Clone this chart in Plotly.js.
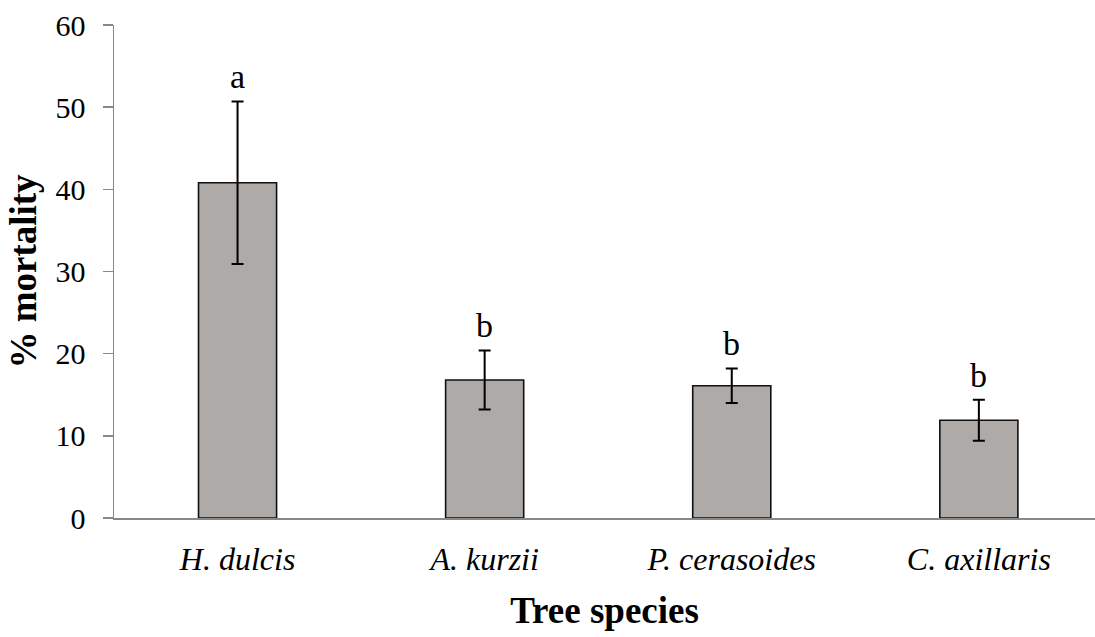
<!DOCTYPE html>
<html>
<head>
<meta charset="utf-8">
<script src="https://cdn.plot.ly/plotly-3.0.1.min.js"></script>
<style>html,body{margin:0;padding:0;background:#fff;}#chart{width:1095px;height:637px;}</style>
</head>
<body>
<div id="chart"></div>
<script>
const species = ["H. dulcis", "A. kurzii", "P. cerasoides", "C. axillaris"];
const mortality = [40.8, 16.8, 16.1, 11.9];
const errors = [9.9, 3.6, 2.1, 2.5];
const letters = ["a", "b", "b", "b"];
const yTicks = [0, 10, 20, 30, 40, 50, 60];

const FONT = "'Liberation Serif', 'Times New Roman', serif";

const trace = {
  type: "bar",
  x: species,
  y: mortality,
  width: 0.316,
  marker: {color: "#ADAAA8", line: {color: "#111111", width: 1.6}},
  error_y: {type: "data", array: errors, visible: true, color: "#000000", thickness: 2, width: 6},
  hoverinfo: "x+y"
};

const annotations = species.map((s, i) => ({
  x: s, y: mortality[i] + errors[i], xref: "x", yref: "y",
  text: letters[i], showarrow: false, yanchor: "bottom", yshift: 4,
  font: {family: FONT, size: 34, color: "#000"}
}));

const layout = {
  width: 1095, height: 637,
  margin: {l: 114, r: 0, t: 25, b: 119},
  paper_bgcolor: "#fff", plot_bgcolor: "#fff",
  showlegend: false,
  font: {family: FONT, color: "#000"},
  xaxis: {
    type: "category",
    range: [-0.5, 3.47],
    tickvals: species,
    ticktext: species.map(s => "<i>" + s + "</i>"),
    showline: true, linecolor: "#888888", linewidth: 2,
    ticks: "", showgrid: false, zeroline: false,
    tickfont: {family: FONT, size: 32, color: "#000"},
    ticklabelstandoff: 12,
    title: {text: "<b>Tree species</b>", font: {family: FONT, size: 37, color: "#000"}, standoff: 21}
  },
  yaxis: {
    range: [0, 60],
    tickvals: yTicks,
    ticktext: yTicks.map(String),
    showline: true, linecolor: "#888888", linewidth: 1.5,
    ticks: "outside", ticklen: 10, tickcolor: "#888888", tickwidth: 1.5,
    showgrid: false, zeroline: false,
    tickfont: {family: FONT, size: 30, color: "#000"},
    ticklabelstandoff: 11,
    title: {text: "<b>% mortality</b>", font: {family: FONT, size: 37, color: "#000"}, standoff: 7}
  },
  annotations: annotations
};

Plotly.newPlot("chart", [trace], layout, {displayModeBar: false, staticPlot: true});
</script>
</body>
</html>
